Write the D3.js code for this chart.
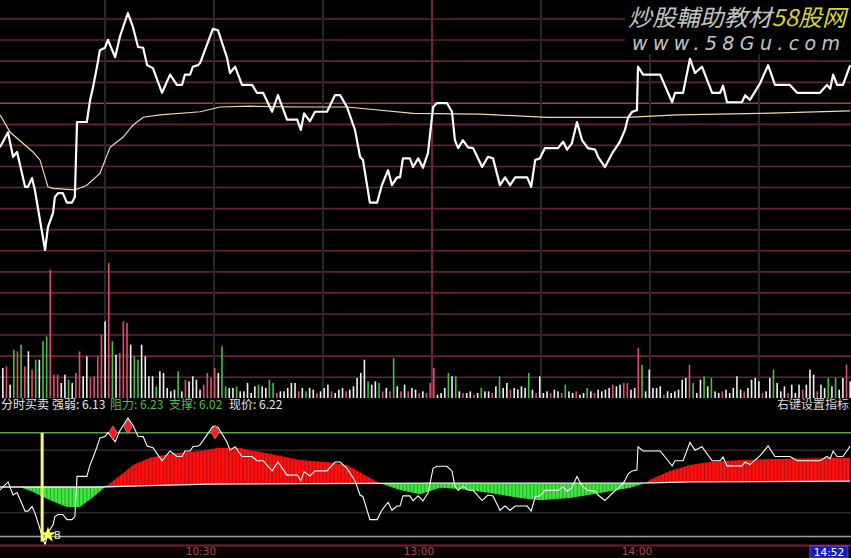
<!DOCTYPE html>
<html><head><meta charset="utf-8">
<script src="https://cdn.jsdelivr.net/npm/d3@7"></script>
<style>html,body{margin:0;padding:0;background:#000;overflow:hidden}</style>
</head><body><svg id="c" width="851" height="558"></svg>
<script>
// ---------- DATA ----------
const priceMin = [1.1,3.3,4.7,5.8,8.0,8.8,9.9,10.7,13.5,14.3,15.7,16.2,17.1,18.4,19.5,20.9,21.7,22.3,25.0,25.9,26.7,27.8,28.6,30.0,30.8,32.8,34.1,36.3,37.7,39.1,40.5,41.6,43.2,45.7,47.9,49.8,51.2,52.0,53.4,54.2,55.6,56.2,59.7,61.1,63.6,64.4,65.8,67.7,70.5,71.8,73.5,76.0,77.6,80.1,82.9,83.9,84.8,86.4,87.8,91.1,93.3,94.7,96.6,98.8,100.2,101.0,102.9,104.9,106.2,107.9,109.0,110.4,111.2,112.0,113.9,114.8,116.2,117.5,118.9,120.3,121.4,124.1,125.5,126.3,127.2,128.5,129.9,131.3,133.8,135.4,136.8,138.7,140.1,141.5,142.9,146.2,147.3,148.4,149.7,151.1,154.7,156.1,157.2,158.5,159.9,161.3,162.9,164.9,165.7,167.6,169.8,171.7,173.1,174.0,175.1,176.4,176.7,178.1,182.8,186.1,186.9,189.1,191.0,192.4,194.3,197.1,199.3,200.1,201.2,205.3,206.2,207.5,210.3,212.5,214.4,218.5,220.5,226.8,228.7,229.6,230.4,231.5,233.1,235.1];
const priceVal = [6.130,6.149,6.118,6.124,6.080,6.080,6.091,6.076,6.000,6.029,6.047,6.067,6.072,6.072,6.060,6.060,6.067,6.162,6.162,6.190,6.206,6.232,6.253,6.256,6.266,6.244,6.270,6.300,6.282,6.257,6.256,6.234,6.230,6.199,6.222,6.209,6.209,6.222,6.222,6.232,6.234,6.237,6.280,6.278,6.243,6.224,6.232,6.209,6.209,6.199,6.199,6.175,6.196,6.165,6.165,6.152,6.173,6.163,6.175,6.175,6.196,6.196,6.181,6.152,6.118,6.114,6.060,6.060,6.082,6.101,6.082,6.092,6.092,6.116,6.116,6.105,6.116,6.104,6.123,6.181,6.186,6.186,6.175,6.139,6.129,6.139,6.130,6.129,6.105,6.118,6.116,6.082,6.092,6.082,6.092,6.092,6.080,6.114,6.116,6.129,6.129,6.137,6.127,6.135,6.162,6.139,6.129,6.127,6.118,6.105,6.124,6.137,6.152,6.168,6.175,6.177,6.232,6.222,6.222,6.187,6.199,6.199,6.242,6.224,6.232,6.199,6.199,6.208,6.187,6.187,6.196,6.190,6.211,6.234,6.209,6.209,6.199,6.199,6.209,6.204,6.222,6.209,6.209,6.234];

const avgMin = [1.1,3.9,10.2,12.1,14.3,15.7,21.7,25.0,28.6,31.4,35.0,37.7,40.5,45.1,56.2,61.7,69.9,83.7,96.6,114.8,133.2,151.7,173.7,187.4,210.3,235.1];
const avgVal = [6.171,6.149,6.124,6.114,6.080,6.078,6.076,6.082,6.097,6.130,6.143,6.158,6.168,6.171,6.175,6.181,6.182,6.181,6.181,6.173,6.172,6.168,6.168,6.171,6.173,6.176];

const volume = [90,95,40,145,140,160,95,140,85,115,
115,170,185,385,70,70,45,70,55,45,
75,140,65,125,60,65,125,190,230,405,
170,130,135,230,225,160,125,115,160,125,
65,65,35,80,75,30,20,25,80,20,
55,50,65,55,25,40,75,60,90,75,
155,35,30,30,35,20,20,45,15,35,
40,35,30,55,45,15,20,20,30,45,
45,20,30,20,30,25,15,20,30,40,
20,15,25,30,20,25,35,60,75,115,
50,40,50,45,20,30,20,120,35,20,
40,20,30,25,15,20,15,45,
90,10,15,30,75,65,65,20,15,15,20,10,
15,30,20,20,15,35,65,30,45,25,
30,25,35,30,75,25,15,65,15,20,
15,25,20,15,40,20,15,20,10,15,
30,20,15,25,20,25,30,40,35,40,
45,45,25,30,150,100,20,85,30,30,
35,10,20,15,20,25,55,60,100,45,
15,55,65,35,60,20,15,20,25,15,
30,65,25,20,30,55,60,50,15,20,
60,85,45,20,35,15,40,15,40,25,
40,85,70,20,40,30,60,35,60,25,
60,100,50];
const volumeColor = ("wrwgrgrwrg"+"wggrrrwwgw"+"rrwwrrrrwr"+"gwrrrwggww"+"wwgwwwwwgw"+
"rwwwwrrrrw"+"ggwwgwwwww"+"gwwggrwwww"+"wrwgwwrwww"+"rwwwrwwwww"+
"gwwgrwrgwr"+"wrwwrwrr"+"rwwwgwgwrwwr"+"wgwwrwgwwr"+"wwwwgwrwww"+
"rwwrgwwrww"+"gwrwwwwrww"+"rrwwrgwwww"+"wrwwwwwwrg"+"wwgwgwwrww"+
"wwwrwwwwrw"+"wgwwwrwwwr"+"wwwrwwgwgw"+"wrw").split("");

const signalMin = [1.1,6.6,10.2,14.9,19.5,23.1,26.7,30.0,31.4,35.0,37.7,42.4,48.7,56.2,60.8,67.2,69.9,74.6,83.7,92.8,96.6,100.2,103.8,105.7,111.2,116.7,122.2,127.7,136.0,144.2,149.7,158.0,166.3,174.5,178.6,180.0,185.5,191.0,196.5,204.8,213.0,235.1];
const signalVal = [6.137,6.137,6.125,6.106,6.090,6.090,6.113,6.137,6.146,6.170,6.189,6.206,6.217,6.222,6.229,6.229,6.224,6.217,6.201,6.194,6.189,6.172,6.154,6.146,6.130,6.120,6.135,6.132,6.123,6.111,6.106,6.111,6.123,6.135,6.146,6.154,6.175,6.189,6.196,6.201,6.203,6.206];
const baseMin = [1.1,28.6,36.9,58.9,119.5,177.3,191.0,235.1];
const baseVal = [6.137,6.137,6.139,6.144,6.146,6.146,6.149,6.151];

const sellMin = [32.2,36.3,60.3];
const sellVal = [6.265,6.279,6.267];
const buyMin = 12.7, buyStarMin = 14.3, buyStarVal = 6.024;

const levelLines = [6.265, 6.224, 6.076];   // bottom panel reference lines
const supportLine = 6.02;

const gridMinutes = [30,60,90,120,150,180,210];
const timeTickMin = [60,120,180];
const timeTickLabel = ["10:30","13:00","14:00"];
const currentMin = 232, currentLabel = "14:52";

const infoLabels = [
  {t:"分时买卖", c:"#e6e6e6"}, {t:"强弱: 6.13", c:"#e6e6e6"},
  {t:"阻力: 6.23", c:"#4fbf4f"}, {t:"支撑: 6.02", c:"#4fbf4f"},
  {t:"现价: 6.22", c:"#e6e6e6"}];

// ---------- SCALES ----------
const W = 851, H = 558;
const x = d3.scaleLinear().domain([0,240]).range([-4,868]);
const yP = d3.scaleLinear().domain([6.00,6.30]).range([250,13]);
const yB = d3.scaleLinear().domain([6.00,6.30]).range([545,418]);
const yV = d3.scaleLinear().domain([0,405]).range([398,263]);
const xV = d3.scaleBand().domain(d3.range(volume.length)).range([1,852]);
const gridY = d3.scaleLinear().domain([0,17]).range([19,377.2]);

const svg = d3.select("#c");
svg.append("rect").attr("width",W).attr("height",H).attr("fill","#000");

// ---------- GRID ----------
svg.append("g").selectAll("line").data(d3.range(18)).join("line")
  .attr("x1",0).attr("x2",W).attr("y1",d=>gridY(d)).attr("y2",d=>gridY(d))
  .attr("stroke",d=>d===4?"#a4423e":"#62243a").attr("stroke-width",1.6);
svg.append("g").selectAll("line").data(gridMinutes).join("line")
  .attr("x1",d=>x(d)).attr("x2",d=>x(d)).attr("y1",0).attr("y2",398)
  .attr("stroke",d=>d===120?"#6e2434":"#282828").attr("stroke-width",2);

// watermark
svg.append("rect").attr("x",625).attr("y",0).attr("width",226).attr("height",54).attr("fill","#000");
const wm = svg.append("text").attr("x",628).attr("y",26).attr("font-family","Noto Sans CJK SC")
  .attr("font-size",23).attr("font-style","italic").attr("textLength",218).attr("lengthAdjust","spacingAndGlyphs");
wm.append("tspan").attr("fill","#c4c4c4").text("炒股輔助教材");
wm.append("tspan").attr("fill","#d6d638").text("58股网");
svg.append("text").attr("x",632).attr("y",50).attr("font-family","DejaVu Sans").attr("font-style","italic")
  .attr("font-size",19).attr("fill","#c4c4c4").attr("textLength",208).attr("lengthAdjust","spacing").text("www.58Gu.com");

// ---------- VOLUME ----------
const vcol = {w:"#f0f0f0", r:"#e0506a", g:"#46c046"};
svg.append("g").selectAll("rect").data(volume).join("rect")
  .attr("x",(d,i)=>xV(i)+xV.bandwidth()/2-0.8).attr("width",1.6)
  .attr("y",d=>yV(d)).attr("height",d=>yV(0)-yV(d))
  .attr("fill",(d,i)=>vcol[volumeColor[i]]);

// ---------- PRICE ----------
const avgPts = avgMin.map((m,i)=>[m,avgVal[i]]);
const pricePts = priceMin.map((m,i)=>[m,priceVal[i]]);
svg.append("path").attr("d",d3.line().x(d=>x(d[0])).y(d=>yP(d[1]))(avgPts))
  .attr("fill","none").attr("stroke","#f0d8a8").attr("stroke-width",1.2);
svg.append("path").attr("d",d3.line().x(d=>x(d[0])).y(d=>yP(d[1]))(pricePts))
  .attr("fill","none").attr("stroke","#fff").attr("stroke-width",2.2).attr("stroke-linejoin","round");

// ---------- INFO ROW ----------
svg.append("rect").attr("x",0).attr("y",399).attr("width",W).attr("height",20).attr("fill","#000");
const infoX = [1,52,110,169,229];
infoLabels.forEach((l,i)=>{
  svg.append("text").attr("x",infoX[i]).attr("y",409).attr("font-family","Noto Sans CJK SC")
   .attr("font-size",12).attr("fill",l.c).text(l.t);
});
svg.append("text").attr("x",777).attr("y",409).attr("font-family","Noto Sans CJK SC")
  .attr("font-size",12).attr("fill","#d8d8d8").text("右键设置指标");

// ---------- BOTTOM PANEL ----------
const lvl = svg.append("g");
lvl.selectAll("line").data(levelLines).join("line")
  .attr("x1",0).attr("x2",W).attr("y1",d=>yB(d)).attr("y2",d=>yB(d))
  .attr("stroke",(d,i)=>i===0?"#5fa04f":"#3a3034").attr("stroke-width",(d,i)=>i===0?1.5:1.2);
svg.append("line").attr("x1",0).attr("x2",W).attr("y1",yB(supportLine)).attr("y2",yB(supportLine))
  .attr("stroke","#a0a0a0").attr("stroke-width",1.5);

const sigPts = signalMin.map((m,i)=>[m,signalVal[i]]);
const basePts = baseMin.map((m,i)=>[m,baseVal[i]]);
const lineB = d3.line().x(d=>x(d[0])).y(d=>yB(d[1]));
const fillPath = lineB(sigPts) + lineB(basePts.slice().reverse()).replace("M","L") + "Z";
const defs = svg.append("defs");
const areaAbove = d3.area().x(d=>x(d[0])).y0(0).y1(d=>yB(d[1]));
const areaBelow = d3.area().x(d=>x(d[0])).y0(H).y1(d=>yB(d[1]));
const ext = [[-10,basePts[0][1]],...basePts,[260,basePts[basePts.length-1][1]]];
defs.append("clipPath").attr("id","above").append("path").attr("d",areaAbove(ext));
defs.append("clipPath").attr("id","below").append("path").attr("d",areaBelow(ext));
defs.append("clipPath").attr("id","fillclip").append("path").attr("d",fillPath);

svg.append("path").attr("d",fillPath).attr("fill","#ff1010").attr("clip-path","url(#above)");
svg.append("path").attr("d",fillPath).attr("fill","#3ee83e").attr("clip-path","url(#below)");
svg.append("g").attr("clip-path","url(#fillclip)").selectAll("line").data(d3.range(0,241)).join("line")
  .attr("x1",d=>x(d)).attr("x2",d=>x(d)).attr("y1",420).attr("y2",545)
  .attr("stroke","#000").attr("stroke-opacity",0.3).attr("stroke-width",1);
svg.append("path").attr("d",lineB(basePts)).attr("fill","none").attr("stroke","#f4f4f4").attr("stroke-width",1.3);

svg.append("path").attr("d",lineB(pricePts)).attr("fill","none").attr("stroke","#fff").attr("stroke-width",1.1);

// buy signal
svg.append("line").attr("x1",x(buyMin)).attr("x2",x(buyMin)).attr("y1",yB(6.265)).attr("y2",yB(6.008))
  .attr("stroke","#f8f870").attr("stroke-width",3);
svg.append("path").attr("d",d3.symbol(d3.symbolStar).size(80)())
  .attr("transform",`translate(${x(buyStarMin)},${yB(buyStarVal)})`).attr("fill","#ffff60");
svg.append("text").attr("x",x(buyStarMin)+6).attr("y",yB(buyStarVal)+4).attr("font-family","DejaVu Sans")
  .attr("font-size",10).attr("fill","#f0f0d0").text("B");
// sell signals
svg.append("g").selectAll("path").data(sellMin).join("path")
  .attr("d",d3.symbol(d3.symbolDiamond).size(55)())
  .attr("transform",(d,i)=>`translate(${x(d)},${yB(sellVal[i])})`)
  .attr("fill","#f02020").attr("stroke","#ff7070").attr("stroke-width",0.8);

// ---------- TIME AXIS ----------
svg.append("rect").attr("x",0).attr("y",546).attr("width",W).attr("height",12).attr("fill","#0c0202");
svg.append("line").attr("x1",0).attr("x2",W).attr("y1",545.5).attr("y2",545.5).attr("stroke","#7e1c2e").attr("stroke-width",2);
svg.append("g").selectAll("text").data(timeTickMin).join("text")
  .attr("x",d=>x(d)-13).attr("y",555).attr("text-anchor","middle").attr("font-family","DejaVu Sans")
  .attr("font-size",10.5).attr("fill","#a84a4a").text((d,i)=>timeTickLabel[i]);
svg.append("rect").attr("x",x(currentMin)-29).attr("y",546).attr("width",38).attr("height",12)
  .attr("fill","#1c1caa").attr("stroke","#5a5aff").attr("stroke-width",0.8);
svg.append("text").attr("x",x(currentMin)-10).attr("y",555.5).attr("text-anchor","middle").attr("font-family","DejaVu Sans")
  .attr("font-size",10.5).attr("fill","#fff").text(currentLabel);
</script></body></html>
